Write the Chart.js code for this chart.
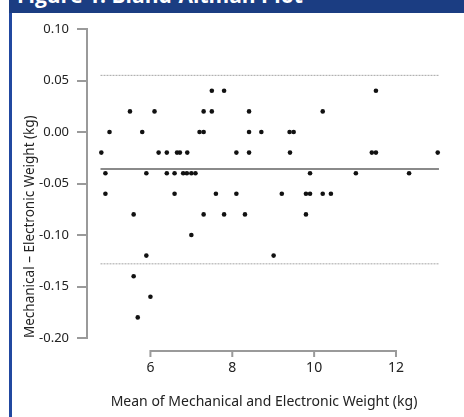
<!DOCTYPE html>
<html>
<head>
<meta charset="utf-8">
<script src="https://cdn.jsdelivr.net/npm/chart.js@4.4.1/dist/chart.umd.min.js"></script>
<style>
  html, body { margin: 0; padding: 0; background: #fff; }
  body { width: 464px; height: 417px; position: relative; overflow: hidden; }
  .frame { position: absolute; left: 9px; top: 0; width: 455px; height: 417px; border-left: 3px solid #2148a0; box-sizing: border-box; }
  .header { position: absolute; left: 9px; top: 0; width: 455px; height: 13px; background: #1b3d82; overflow: hidden; }
  .header span { position: absolute; left: 8px; top: -15px; color: #fff; font: bold 21px "Open Sans", sans-serif; line-height: 21px; white-space: nowrap; }
  #wrap { position: absolute; left: 12px; top: 13px; width: 452px; height: 404px; }
</style>
</head>
<body>
<div class="frame"></div>
<div class="header"><span>Figure 1. Bland-Altman Plot</span></div>
<div id="wrap"><canvas id="chart" width="452" height="404"></canvas></div>
<script>
// mean of the two weights (kg) and their difference (kg)
const meanWeight = [
  7.50, 7.80, 11.51,
  5.50, 6.10, 7.30, 7.50, 8.41, 10.21,
  5.00, 5.80, 7.20, 7.30, 8.41, 8.71, 9.40, 9.50,
  4.80, 6.20, 6.40, 6.65, 6.72, 6.90, 8.10, 8.41, 9.41, 11.41, 11.51, 13.02,
  4.90, 5.90, 6.40, 6.59, 6.80, 6.89, 7.00, 7.10, 9.90, 11.02, 12.32,
  4.90, 6.59, 7.60, 8.10, 9.21, 9.80, 9.90, 10.21, 10.41,
  5.59, 7.30, 7.80, 8.31, 9.80,
  7.00,
  5.90, 9.01,
  5.59,
  6.00,
  5.69
];
const weightDiff = [
  0.04, 0.04, 0.04,
  0.02, 0.02, 0.02, 0.02, 0.02, 0.02,
  0.00, 0.00, 0.00, 0.00, 0.00, 0.00, 0.00, 0.00,
  -0.02, -0.02, -0.02, -0.02, -0.02, -0.02, -0.02, -0.02, -0.02, -0.02, -0.02, -0.02,
  -0.04, -0.04, -0.04, -0.04, -0.04, -0.04, -0.04, -0.04, -0.04, -0.04, -0.04,
  -0.06, -0.06, -0.06, -0.06, -0.06, -0.06, -0.06, -0.06, -0.06,
  -0.08, -0.08, -0.08, -0.08, -0.08,
  -0.10,
  -0.12, -0.12,
  -0.14,
  -0.16,
  -0.18
];

const meanDiff = -0.036;
const upperLimit = 0.055;
const lowerLimit = -0.128;
const lineFrom = 4.78;
const lineTo = 13.05;

const xTicks = [6, 8, 10, 12];
const yTicks = [-0.20, -0.15, -0.10, -0.05, 0.00, 0.05, 0.10];

const axisGray = "#9a9a9a";
const textColor = "#222";
const fontFamily = "'Noto Sans', sans-serif";

function hLine(value) {
  return [{ x: lineFrom, y: value }, { x: lineTo, y: value }];
}

// the x axis sits below the plot and only spans the labelled ticks
const xBracket = {
  id: "xBracket",
  afterDraw(chart) {
    const { ctx, chartArea, scales } = chart;
    const x = scales.x;
    const y = chartArea.bottom + 13;
    const first = x.getPixelForValue(xTicks[0]);
    const last = x.getPixelForValue(xTicks[xTicks.length - 1]);
    ctx.save();
    ctx.strokeStyle = axisGray;
    ctx.lineWidth = 2;
    ctx.lineCap = "square";
    ctx.beginPath();
    ctx.moveTo(first, y);
    ctx.lineTo(last, y);
    xTicks.forEach(v => {
      const px = x.getPixelForValue(v);
      ctx.moveTo(px, y);
      ctx.lineTo(px, y + 5);
    });
    ctx.stroke();
    ctx.restore();
  }
};

new Chart(document.getElementById("chart"), {
  type: "scatter",
  data: {
    datasets: [
      {
        data: meanWeight.map((v, i) => ({ x: v, y: weightDiff[i] })),
        pointRadius: 2.3,
        pointHoverRadius: 2.3,
        backgroundColor: "#111",
        borderWidth: 0
      },
      {
        data: hLine(meanDiff),
        showLine: true,
        pointRadius: 0,
        borderColor: "#8a8a8a",
        borderWidth: 2
      },
      {
        data: hLine(upperLimit),
        showLine: true,
        pointRadius: 0,
        borderColor: "#a5a5a5",
        borderWidth: 1,
        borderDash: [2, 1]
      },
      {
        data: hLine(lowerLimit),
        showLine: true,
        pointRadius: 0,
        borderColor: "#a5a5a5",
        borderWidth: 1,
        borderDash: [2, 1]
      }
    ]
  },
  options: {
    responsive: false,
    animation: false,
    layout: { padding: { top: 16, right: 23, left: 0, bottom: 0 } },
    plugins: {
      legend: { display: false },
      tooltip: { enabled: false }
    },
    scales: {
      x: {
        type: "linear",
        min: 4.45,
        max: 13.1,
        afterBuildTicks: s => { s.ticks = xTicks.map(v => ({ value: v })); },
        afterFit: s => { s.height = 79; },
        grid: { display: false, drawTicks: false },
        border: { display: false },
        ticks: { padding: 22, color: textColor, font: { family: fontFamily, size: 14 } },
        title: {
          display: true,
          text: "Mean of Mechanical and Electronic Weight (kg)",
          color: textColor,
          font: { family: fontFamily, size: 14 },
          padding: { top: 0, bottom: 7 }
        }
      },
      y: {
        min: -0.2,
        max: 0.1,
        afterBuildTicks: s => { s.ticks = yTicks.map(v => ({ value: v })); },
        afterFit: s => { s.width = 75; },
        grid: { drawOnChartArea: false, drawTicks: true, tickLength: 10, color: axisGray, lineWidth: 2 },
        border: { color: axisGray, width: 2 },
        ticks: {
          padding: 8,
          color: textColor,
          font: { family: fontFamily, size: 13 },
          callback: v => v.toFixed(2)
        },
        title: {
          display: true,
          align: "start",
          text: "Mechanical – Electronic Weight (kg)",
          color: textColor,
          font: { family: fontFamily, size: 13.5 },
          padding: { top: 10, bottom: 0 }
        }
      }
    }
  },
  plugins: [xBracket]
});
</script>
</body>
</html>
